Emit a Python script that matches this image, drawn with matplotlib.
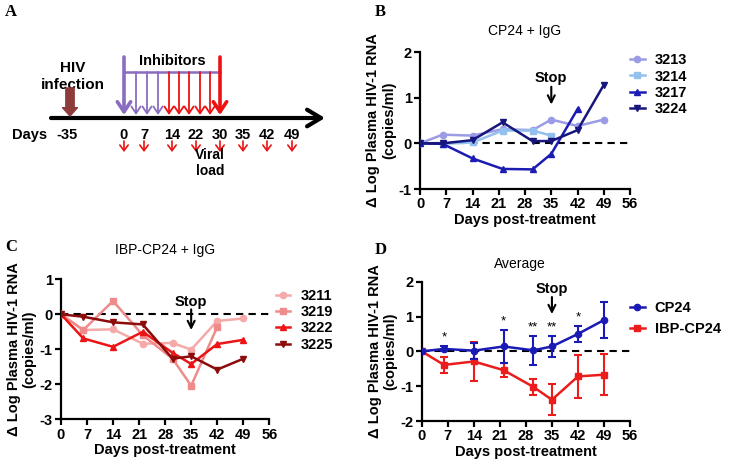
import matplotlib.pyplot as plt

plt.rcParams['font.family'] = ['Liberation Sans', 'DejaVu Sans']
plt.rcParams['font.weight'] = 'bold'
plt.rcParams['axes.labelweight'] = 'bold'
plt.rcParams['axes.linewidth'] = 1.6
plt.rcParams['xtick.major.width'] = 1.6
plt.rcParams['ytick.major.width'] = 1.6
plt.rcParams['xtick.major.size'] = 4
plt.rcParams['ytick.major.size'] = 4

# ---- data ----
days = [0, 6, 14, 22, 30, 35, 42, 49]
xticks = [0, 7, 14, 21, 28, 35, 42, 49, 56]

# panel B: CP24 + IgG
b_names = ['3213', '3214', '3217', '3224']
b_3213 = [0, 0.19, 0.17, 0.31, 0.29, 0.52, 0.38, 0.52]
b_3214 = [0, -0.01, 0.02, 0.28, 0.28, 0.17]
b_3217 = [0, -0.01, -0.33, -0.56, -0.57, -0.23, 0.75]
b_3224 = [0, 0.0, 0.07, 0.46, 0.05, 0.05, 0.29, 1.28]

# panel C: IBP-CP24 + IgG
c_names = ['3211', '3219', '3222', '3225']
c_3211 = [0, -0.45, -0.43, -0.84, -0.82, -1.01, -0.19, -0.12]
c_3219 = [0, -0.45, 0.38, -0.6, -1.27, -2.04, -0.36]
c_3222 = [0, -0.69, -0.93, -0.5, -1.1, -1.42, -0.85, -0.73]
c_3225 = [0, -0.07, -0.23, -0.29, -1.27, -1.2, -1.58, -1.27]

# panel D: averages
cp24 = [0, 0.07, 0.02, 0.14, 0.03, 0.14, 0.5, 0.9]
cp24_err = [0, 0.07, 0.23, 0.47, 0.41, 0.3, 0.23, 0.52]
ibp = [0, -0.39, -0.29, -0.54, -1.02, -1.39, -0.72, -0.67]
ibp_err = [0, 0.24, 0.56, 0.2, 0.24, 0.44, 0.62, 0.58]
stars = ['', '*', '', '*', '**', '**', '*', '']

# panel A: schematic timeline
tl_labels = ['-35', '0', '7', '14', '22', '30', '35', '42', '49']
tl_x = [67, 124, 144, 172, 196, 220, 243, 267, 292]
dose_x = [124, 136, 147, 158, 169, 179, 189, 200, 210, 220]
dose_col = ['#8a6cc0'] * 4 + ['#ee1111'] * 6

fig = plt.figure(figsize=(7.31, 4.65), dpi=100)

# ---------- A ----------
axa = fig.add_axes([0, 0, 1, 1])
axa.set_xlim(0, 731)
axa.set_ylim(465, 0)
axa.axis('off')

axa.text(5, 12, 'A', fontsize=12, family='Liberation Serif', va='center')
axa.text(375, 12, 'B', fontsize=12, family='Liberation Serif', va='center')
axa.text(5, 247, 'C', fontsize=12, family='Liberation Serif', va='center')
axa.text(375, 250, 'D', fontsize=12, family='Liberation Serif', va='center')

axa.annotate('', xy=(325, 118), xytext=(51, 118),
             arrowprops=dict(arrowstyle='->,head_length=0.5,head_width=0.3',
                             lw=3, color='black', shrinkA=0, shrinkB=0,
                             mutation_scale=20))
axa.text(30, 135, 'Days', ha='center', va='center', fontsize=10.5)
for lab, x in zip(tl_labels, tl_x):
    axa.text(x, 135, lab, ha='center', va='center', fontsize=10.5)
for x in tl_x[1:]:
    axa.annotate('', xy=(x, 152), xytext=(x, 141),
                 arrowprops=dict(arrowstyle='->,head_length=0.4,head_width=0.3',
                                 lw=1.2, color='#ee1111', shrinkA=0, shrinkB=0,
                                 mutation_scale=10))
axa.text(210, 155, 'Viral', ha='center', va='center', fontsize=10)
axa.text(210, 171, 'load', ha='center', va='center', fontsize=10)

axa.text(73, 68, 'HIV', ha='center', va='center', fontsize=11)
axa.text(73, 85, 'infection', ha='center', va='center', fontsize=11)
axa.annotate('', xy=(70, 116), xytext=(70, 88),
             arrowprops=dict(arrowstyle='simple,head_length=0.5,head_width=0.9,tail_width=0.5',
                             color='#8e3b3b', shrinkA=0, shrinkB=0, mutation_scale=12))

axa.plot([124, 220], [72, 72], color='#8a6cc0', lw=1.8)
axa.text(172, 61, 'Inhibitors', ha='center', va='center', fontsize=10.5)
for i, (x, c) in enumerate(zip(dose_x, dose_col)):
    big = i == 0 or i == len(dose_x) - 1
    y0 = 57 if big else 72
    axa.annotate('', xy=(x, 115), xytext=(x, y0),
                 arrowprops=dict(arrowstyle='->,head_length=0.45,head_width=0.3',
                                 lw=2.6 if big else 1.3, color=c, shrinkA=0, shrinkB=0,
                                 mutation_scale=16 if big else 11))


def style_axis(ax, ylim, yticks):
    ax.set_facecolor('none')
    ax.spines['top'].set_visible(False)
    ax.spines['right'].set_visible(False)
    ax.set_xlim(0, 56)
    ax.set_ylim(*ylim)
    ax.set_xticks(xticks, [str(t) for t in xticks], fontweight='bold',
                  fontsize=10.5)
    ax.set_yticks(yticks, [str(t) for t in yticks], fontweight='bold',
                  fontsize=10.5)
    ax.tick_params(pad=2)
    ax.axhline(0, color='black', lw=1.5, ls=(0, (3.5, 2.5)), zorder=1)
    ax.set_xlabel('Days post-treatment', fontsize=10.5, labelpad=1,
                  fontweight='bold')
    ax.set_ylabel('\u0394 Log Plasma HIV-1 RNA\n(copies/ml)', fontsize=10.5,
                  labelpad=2, linespacing=1.15, fontweight='bold')


def stop(ax, ytext, ytop, ybot):
    ax.text(35, ytext, 'Stop', ha='center', va='center', fontsize=10.5)
    ax.annotate('', xy=(35, ybot), xytext=(35, ytop),
                arrowprops=dict(arrowstyle='->,head_length=0.5,head_width=0.25',
                                lw=1.5, color='black', shrinkA=0, shrinkB=0,
                                mutation_scale=10))


leg_kw = dict(loc='upper left', frameon=False, handlelength=1.0,
              handletextpad=0.7, borderpad=0, borderaxespad=0,
              prop={'weight': 'bold', 'size': 10.5})

# ---------- B ----------
axb = fig.add_axes([0.5746, 0.5935, 0.2873, 0.2946])
style_axis(axb, (-1, 2), [-1, 0, 1, 2])
b_series = [b_3213, b_3214, b_3217, b_3224]
b_cols = ['#9c9ce6', '#94c0ee', '#1c1cb4', '#16167c']
b_marks = ['o', 's', '^', 'v']
for name, ys, c, m in zip(b_names, b_series, b_cols, b_marks):
    axb.plot(days[:len(ys)], ys, color=c, marker=m, ms=4.5, lw=1.8, label=name,
             zorder=3)
axb.set_title('CP24 + IgG', fontsize=10, fontweight='normal', pad=12)
stop(axb, 1.43, 1.24, 0.85)
axb.legend(bbox_to_anchor=(1.0, 0.99), labelspacing=0.15, **leg_kw)

# ---------- C ----------
axc = fig.add_axes([0.0834, 0.0983, 0.285, 0.3011])
style_axis(axc, (-3, 1), [-3, -2, -1, 0, 1])
c_series = [c_3211, c_3219, c_3222, c_3225]
c_cols = ['#f5a9a9', '#ef8b8b', '#ec1414', '#8c0b0b']
c_marks = ['o', 's', '^', 'v']
for name, ys, c, m in zip(c_names, c_series, c_cols, c_marks):
    axc.plot(days[:len(ys)], ys, color=c, marker=m, ms=4.5, lw=1.8, label=name,
             zorder=3)
axc.set_title('IBP-CP24 + IgG', fontsize=10, fontweight='normal', pad=18)
stop(axc, 0.36, 0.14, -0.45)
axc.legend(bbox_to_anchor=(1.03, 0.93), labelspacing=0.15, **leg_kw)

# ---------- D ----------
axd = fig.add_axes([0.5769, 0.0946, 0.285, 0.2996])
style_axis(axd, (-2, 2), [-2, -1, 0, 1, 2])
axd.errorbar(days, cp24, yerr=cp24_err, fmt='none', ecolor='#1a1ab4',
             elinewidth=1.5, capsize=3, capthick=1.5, zorder=4)
axd.plot(days, cp24, color='#1a1ab4', marker='o', ms=4.5, lw=1.8,
         label='CP24', zorder=4)
axd.errorbar(days, ibp, yerr=ibp_err, fmt='none', ecolor='#ec1c1c',
             elinewidth=1.5, capsize=3, capthick=1.5, zorder=3)
axd.plot(days, ibp, color='#ec1c1c', marker='s', ms=4.5, lw=1.8,
         label='IBP-CP24', zorder=3)
for d, v, e, s in zip(days, cp24, cp24_err, stars):
    if s:
        axd.text(d, v + e + 0.08, s, ha='center', va='bottom', fontsize=9.5,
                 fontweight='normal')
axd.set_title('Average', fontsize=10, fontweight='normal', pad=10, x=0.47)
stop(axd, 1.8, 1.56, 1.07)
axd.legend(bbox_to_anchor=(1.0, 0.86), labelspacing=0.5, **leg_kw)

fig.savefig('out.png', dpi=100)
